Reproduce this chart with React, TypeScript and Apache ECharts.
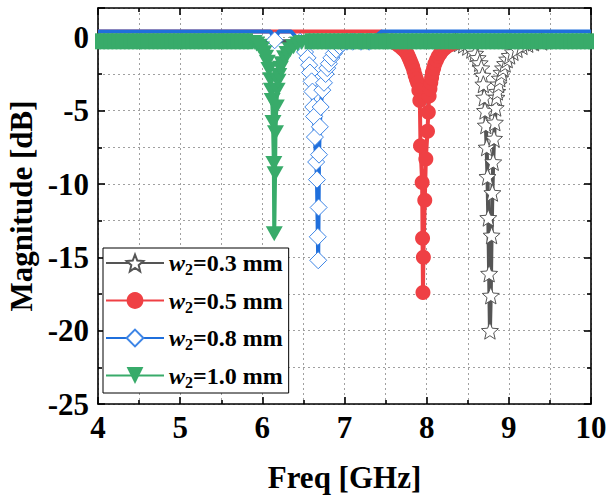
import React, { useEffect, useRef } from "react";
import * as echarts from "echarts";

const FONT = '"Liberation Serif", "Times New Roman", serif';

const xTicks = { min: 4, max: 10, interval: 1 };
const yTicks = { min: -25, max: 2, interval: 5 };

const seriesNames = ["w2=0.3 mm", "w2=0.5 mm", "w2=0.8 mm", "w2=1.0 mm"];

// flat out-of-band levels (dB)
const upperLevel = 0.4;
const lowerLevel = -0.27;

// w2 = 0.3 mm (gray, stars)
const grayFreq = [
  4.0, 4.5, 5.0, 5.5, 6.0, 6.5, 7.0, 7.5, 8.0, 8.25,
  8.35, 8.4, 8.45, 8.5, 8.55, 8.59, 8.62, 8.645, 8.665, 8.68, 8.69,
  8.7, 8.71, 8.72, 8.73, 8.74, 8.75, 8.76, 8.77, 8.78, 8.79, 8.8, 8.81, 8.82, 8.83, 8.84, 8.85,
  8.86, 8.875, 8.89, 8.91, 8.93, 8.955, 8.98, 9.01, 9.05, 9.1, 9.16, 9.23, 9.3, 9.4,
  9.5, 9.75, 10.0,
];
const grayMag = [
  -0.27, -0.27, -0.27, -0.27, -0.27, -0.27, -0.27, -0.27, -0.27, -0.27,
  -0.3, -0.4, -0.5, -0.65, -0.85, -1.1, -1.4, -1.75, -2.1, -2.6, -3.2,
  -4.1, -5.0, -6.0, -7.5, -9.5, -12.3, -16.1, -20.0, -17.6, -13.5, -10.6, -8.5, -6.9, -5.8, -4.8, -4.1,
  -3.7, -3.2, -2.8, -2.4, -2.1, -1.8, -1.5, -1.25, -1.0, -0.8, -0.6, -0.45, -0.35, -0.3,
  -0.27, -0.27, -0.27,
];

// w2 = 0.5 mm (red, circles)
const redFreq = [
  4.0, 4.5, 5.0, 5.5, 6.0, 6.5, 7.0, 7.45,
  7.58, 7.62, 7.66, 7.7, 7.73, 7.755, 7.77, 7.785, 7.8, 7.815, 7.83, 7.845, 7.86, 7.875, 7.89, 7.905,
  7.917, 7.925, 7.945, 7.95, 7.955, 7.96, 7.977, 7.99, 8.01, 8.02,
  8.03, 8.04, 8.05, 8.06, 8.07, 8.085, 8.1, 8.12, 8.14, 8.165, 8.19, 8.22, 8.25, 8.285, 8.32, 8.36, 8.42,
  8.5, 9.0, 9.5, 10.0,
];
const redMag = [
  0.4, 0.4, 0.4, 0.4, 0.4, 0.4, 0.4, 0.4,
  -0.25, -0.4, -0.55, -0.75, -0.9, -1.05, -1.2, -1.4, -1.6, -1.8, -2.0, -2.3, -2.6, -2.85, -3.1, -3.6,
  -4.3, -7.4, -9.9, -13.7, -17.4, -15.0, -11.1, -8.3, -6.4, -5.1,
  -4.0, -3.5, -3.1, -2.75, -2.4, -2.1, -1.8, -1.55, -1.3, -1.1, -0.9, -0.75, -0.6, -0.5, -0.4, -0.35, -0.3,
  -0.27, -0.27, -0.27, -0.27,
];

// w2 = 0.8 mm (blue, hollow diamonds)
const blueFreq = [
  4.0, 4.5, 5.0, 5.5, 6.0, 6.1, 6.15, 6.2, 6.35,
  6.46, 6.49, 6.52, 6.55, 6.57, 6.58, 6.6, 6.61, 6.62, 6.63, 6.64, 6.655, 6.665, 6.675,
  6.68, 6.685, 6.69, 6.7, 6.71, 6.73, 6.75, 6.77, 6.79, 6.81, 6.84, 6.87, 6.9, 6.94, 6.98, 7.03,
  7.1, 7.2, 7.3, 7.45,
  7.5, 8.0, 8.5, 9.0, 9.5, 10.0,
];
const blueMag = [
  0.4, 0.4, 0.4, 0.4, 0.4, 0.4, -0.2, 0.4, 0.4,
  -0.3, -0.6, -1.0, -1.4, -1.9, -2.4, -3.0, -3.7, -4.75, -5.4, -6.8, -8.5, -9.7, -13.6,
  -15.2, -11.6, -8.0, -6.1, -4.75, -3.6, -3.1, -2.5, -2.1, -1.8, -1.4, -1.1, -0.85, -0.6, -0.4, -0.3,
  -0.3, -0.3, -0.3, 0.4,
  0.4, 0.4, 0.4, 0.4, 0.4, 0.4,
];

// w2 = 1.0 mm (green, down triangles)
const greenFreq = [
  4.0, 4.05, 4.1, 4.15, 4.2, 4.25, 4.3, 4.35, 4.4, 4.45, 4.5, 4.55, 4.6, 4.65, 4.7, 4.75, 4.8, 4.85, 4.9, 4.95,
  5.0, 5.05, 5.1, 5.15, 5.2, 5.25, 5.3, 5.35, 5.4, 5.45, 5.5, 5.55, 5.6, 5.65, 5.7, 5.75, 5.8, 5.85,
  5.9, 5.93, 5.96, 5.99, 6.02, 6.04, 6.06, 6.08, 6.1, 6.11, 6.12, 6.13, 6.14, 6.145,
  6.155, 6.16, 6.17, 6.18, 6.19, 6.2, 6.22, 6.24, 6.27, 6.3, 6.34, 6.38, 6.43, 6.48,
  6.55, 6.6, 6.65, 6.7, 6.75, 6.8, 6.85, 6.9, 6.95,
  7.0, 7.05, 7.1, 7.15, 7.2, 7.25, 7.3, 7.35, 7.4, 7.45, 7.5, 7.55, 7.6, 7.65, 7.7, 7.75, 7.8, 7.85, 7.9, 7.95,
  8.0, 8.05, 8.1, 8.15, 8.2, 8.25, 8.3, 8.35, 8.4, 8.45, 8.5, 8.55, 8.6, 8.65, 8.7, 8.75, 8.8, 8.85, 8.9, 8.95,
  9.0, 9.05, 9.1, 9.15, 9.2, 9.25, 9.3, 9.35, 9.4, 9.45, 9.5, 9.55, 9.6, 9.65, 9.7, 9.75, 9.8, 9.85, 9.9, 9.95, 10.0,
];
const greenMag = [
  -0.27, -0.27, -0.27, -0.27, -0.27, -0.27, -0.27, -0.27, -0.27, -0.27, -0.27, -0.27, -0.27, -0.27, -0.27, -0.27, -0.27, -0.27, -0.27, -0.27,
  -0.27, -0.27, -0.27, -0.27, -0.27, -0.27, -0.27, -0.27, -0.27, -0.27, -0.27, -0.27, -0.27, -0.27, -0.27, -0.27, -0.27, -0.27,
  -0.35, -0.45, -0.6, -0.8, -1.05, -1.35, -1.7, -2.2, -2.9, -3.6, -4.3, -5.8, -8.6, -13.4,
  -9.3, -6.5, -4.75, -3.6, -3.0, -2.6, -2.1, -1.8, -1.4, -1.1, -0.85, -0.65, -0.45, -0.35,
  -0.27, -0.27, -0.27, -0.27, -0.27, -0.27, -0.27, -0.27, -0.27,
  -0.27, -0.27, -0.27, -0.27, -0.27, -0.27, -0.27, -0.27, -0.27, -0.27, -0.27, -0.27, -0.27, -0.27, -0.27, -0.27, -0.27, -0.27, -0.27, -0.27,
  -0.27, -0.27, -0.27, -0.27, -0.27, -0.27, -0.27, -0.27, -0.27, -0.27, -0.27, -0.27, -0.27, -0.27, -0.27, -0.27, -0.27, -0.27, -0.27, -0.27,
  -0.27, -0.27, -0.27, -0.27, -0.27, -0.27, -0.27, -0.27, -0.27, -0.27, -0.27, -0.27, -0.27, -0.27, -0.27, -0.27, -0.27, -0.27, -0.27, -0.27, -0.27,
];

const STAR =
  "path://M50,0 L62.93,32.2 L97.55,34.55 L70.92,56.8 L79.39,90.45 L50,72 L20.61,90.45 L29.08,56.8 L2.45,34.55 L37.07,32.2 Z";

export default function App() {
  const ref = useRef<HTMLDivElement>(null);
  useEffect(() => {
    if (!ref.current) return;
    const chart = echarts.init(ref.current, null, { renderer: "svg" });
    const axisLineStyle = { color: "#000", width: 1.6 };
    const gridLine = { color: "#a0a0a0", width: 1, type: [2, 3] as number[] };
    const labelStyle = { color: "#000", fontFamily: FONT, fontWeight: "bold" as const, fontSize: 31 };
    const common = {
      axisLine: { show: true, onZero: false, lineStyle: axisLineStyle },
      axisTick: { show: true, inside: true, length: 7, lineStyle: axisLineStyle },
      minorTick: { show: true, splitNumber: 2, length: 4, lineStyle: axisLineStyle },
    };
    // points lying on the flat out-of-band level: the dense markers of the
    // original merge into a continuous band there (green) or are hidden (others)
    const build = (f: number[], m: number[], flat: (y: number) => any) =>
      f.map((x, i) => {
        const s = flat(m[i]);
        return s ? { value: [x, m[i]], ...s } : [x, m[i]];
      });
    const hideFlat = (y: number) =>
      y === upperLevel || y === lowerLevel ? { symbol: "none" } : null;
    const bandFlat = (y: number) =>
      y === lowerLevel ? { symbol: "rect", symbolSize: [6, 16], symbolRotate: 0 } : null;
    const mk = (
      name: string,
      data: any[],
      color: string,
      symbol: string,
      symbolSize: number | number[],
      fill: string,
      border: string,
      borderWidth: number,
      rotate = 0
    ) => ({
      name,
      type: "line",
      data,
      symbol,
      symbolSize,
      symbolRotate: rotate,
      showSymbol: true,
      showAllSymbol: true,
      color,
      lineStyle: { color, width: 4 },
      itemStyle: { color: fill, borderColor: border, borderWidth },
      emphasis: { disabled: true },
      xAxisIndex: 0,
      yAxisIndex: 0,
    });
    chart.setOption({
      animation: false,
      backgroundColor: "#fff",
      grid: { left: 98, right: 15, top: 8, bottom: 94, containLabel: false, outerBoundsMode: "none" },
      legend: {
        show: true,
        orient: "vertical",
        left: 103,
        top: 248,
        padding: [3, 6, 3, 2],
        itemGap: 11,
        itemWidth: 58,
        itemHeight: 21,
        backgroundColor: "#fff",
        borderColor: "#000",
        borderWidth: 1,
        selectedMode: false,
        data: seriesNames,
        formatter: (n: string) => `{w|w}{s|2}{t|${n.slice(2)}}`,
        textStyle: {
          color: "#000",
          fontFamily: FONT,
          fontWeight: "bold",
          fontSize: 24,
          rich: {
            w: { fontFamily: FONT, fontWeight: "bold", fontStyle: "italic", fontSize: 24, color: "#000" },
            s: { fontFamily: FONT, fontWeight: "bold", fontSize: 16, color: "#000", padding: [13, 0, 0, 0] },
            t: { fontFamily: FONT, fontWeight: "bold", fontSize: 24, color: "#000" },
          },
        },
      },
      xAxis: [
        {
          type: "value",
          position: "bottom",
          min: xTicks.min,
          max: xTicks.max,
          interval: xTicks.interval,
          ...common,
          splitLine: { show: true, lineStyle: gridLine },
          minorSplitLine: { show: true, lineStyle: gridLine },
          axisLabel: { ...labelStyle, margin: 8 },
          name: "Freq [GHz]",
          nameLocation: "middle",
          nameGap: 58,
          nameTextStyle: labelStyle,
        },
        {
          type: "value",
          position: "top",
          min: xTicks.min,
          max: xTicks.max,
          interval: xTicks.interval,
          ...common,
          splitLine: { show: false },
          axisLabel: { show: false },
        },
      ],
      yAxis: [
        {
          type: "value",
          position: "left",
          min: yTicks.min,
          max: yTicks.max,
          interval: yTicks.interval,
          ...common,
          splitLine: { show: true, lineStyle: gridLine },
          minorSplitLine: { show: true, lineStyle: gridLine },
          axisLabel: { ...labelStyle, margin: 9, showMaxLabel: false },
          name: "Magnitude [dB]",
          nameLocation: "middle",
          nameGap: 60,
          nameTextStyle: labelStyle,
        },
        {
          type: "value",
          position: "right",
          min: yTicks.min,
          max: yTicks.max,
          interval: yTicks.interval,
          ...common,
          splitLine: { show: false },
          axisLabel: { show: false },
        },
      ],
      series: [
        mk(seriesNames[0], build(grayFreq, grayMag, hideFlat), "#555555", STAR, 17, "#ffffff", "#555555", 1),
        mk(seriesNames[1], build(redFreq, redMag, hideFlat), "#ef4044", "circle", 15, "#ef4044", "#ef4044", 0),
        mk(seriesNames[2], build(blueFreq, blueMag, hideFlat), "#1f6fdc", "diamond", 17, "#ffffff", "#3d85e6", 1),
        mk(seriesNames[3], build(greenFreq, greenMag, bandFlat), "#38ab6a", "triangle", [17, 15], "#38ab6a", "#38ab6a", 0, 180),
      ],
    });
    return () => chart.dispose();
  }, []);
  return <div ref={ref} style={{ position: "fixed", left: 0, top: 0, width: 606, height: 498 }} />;
}
